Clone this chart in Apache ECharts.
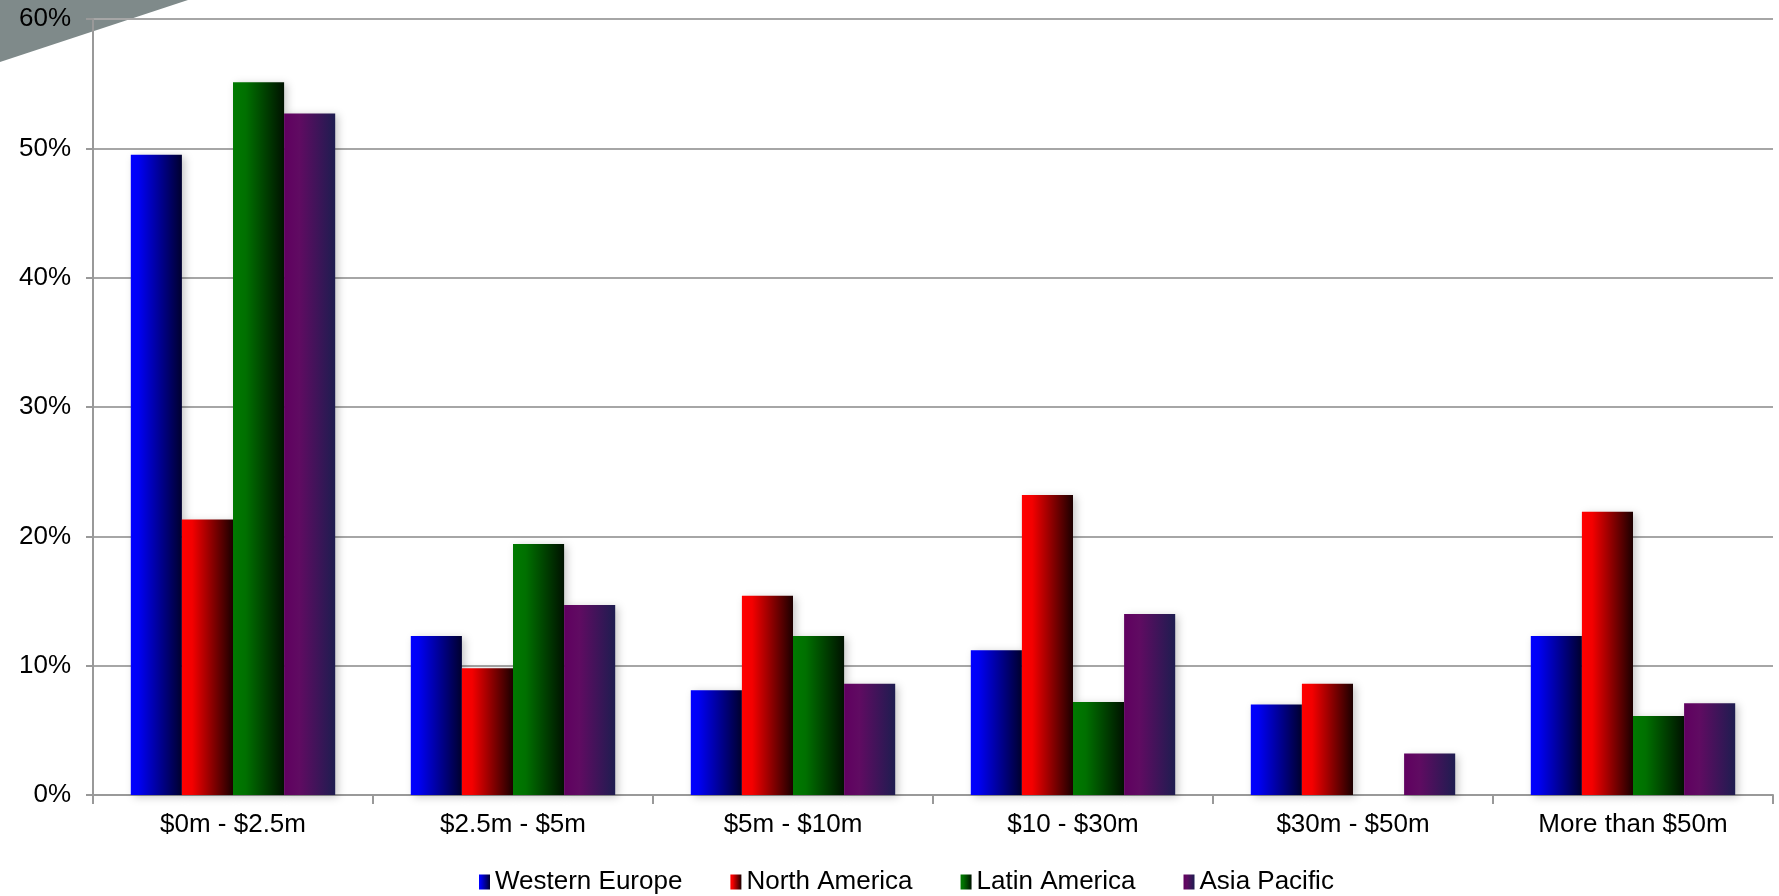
<!DOCTYPE html>
<html>
<head>
<meta charset="utf-8">
<script src="https://cdn.jsdelivr.net/npm/echarts@6/dist/echarts.min.js"></script>
<style>
  html, body { margin: 0; padding: 0; background: #fff; }
  #chart { width: 1779px; height: 896px; }
</style>
</head>
<body>
<div id="chart"></div>
<script>
// Deal size bands
const categories = ['$0m - $2.5m', '$2.5m - $5m', '$5m - $10m', '$10 - $30m', '$30m - $50m', 'More than $50m'];

// Share of deals per region (%)
const westernEurope = [49.5, 12.3, 8.1, 11.2, 7.0, 12.3];
const northAmerica  = [21.3, 9.8, 15.4, 23.2, 8.6, 21.9];
const latinAmerica  = [55.1, 19.4, 12.3, 7.2, 0, 6.1];
const asiaPacific   = [52.7, 14.7, 8.6, 14.0, 3.2, 7.1];

const seriesNames = ['Western Europe', 'North America', 'Latin America', 'Asia Pacific'];
const yTicks = [0, 10, 20, 30, 40, 50, 60];

function hGrad(stops) {
  return new echarts.graphic.LinearGradient(0, 0, 1, 0,
    stops.map(s => ({ offset: s[0], color: s[1] })));
}

const fills = [
  hGrad([[0, '#0000ff'], [0.15, '#0000f4'], [1, '#00002e']]),
  hGrad([[0, '#ff0000'], [0.2, '#f40000'], [1, '#1c0000']]),
  hGrad([[0, '#007a00'], [0.25, '#007000'], [1, '#001200']]),
  hGrad([[0, '#600060'], [0.3, '#600b62'], [1, '#1e1d50']])
];

const values = [westernEurope, northAmerica, latinAmerica, asiaPacific];

const chart = echarts.init(document.getElementById('chart'), null, { renderer: 'canvas' });

const font = '"Liberation Sans", Arial, sans-serif';

chart.setOption({
  animation: false,
  backgroundColor: '#ffffff',
  textStyle: { fontFamily: font },
  graphic: [{
    type: 'polygon',
    z: -10,
    silent: true,
    shape: { points: [[0, 0], [188, 0], [0, 62]] },
    style: { fill: '#7f8a8a' }
  }],
  grid: { left: 93, right: 6, top: 19, bottom: 101, containLabel: false },
  legend: {
    data: seriesNames,
    left: 474,
    top: 864,
    itemWidth: 11,
    itemHeight: 15,
    itemGap: 48,
    icon: 'rect',
    textStyle: { fontSize: 26, color: '#000', fontFamily: font, padding: [0, 0, 0, 0] }
  },
  xAxis: {
    type: 'category',
    data: categories,
    axisLine: { lineStyle: { color: '#999', width: 2 } },
    axisTick: { show: true, alignWithLabel: false, length: 9, lineStyle: { color: '#999', width: 2 } },
    axisLabel: { fontSize: 26, color: '#000', margin: 17, fontFamily: font }
  },
  yAxis: {
    type: 'value',
    min: yTicks[0],
    max: yTicks[yTicks.length - 1],
    interval: 10,
    axisLine: { show: true, lineStyle: { color: '#999', width: 2 } },
    axisTick: { show: true, length: 7, lineStyle: { color: '#999', width: 2 } },
    splitLine: { lineStyle: { color: '#a6a6a6', width: 2 } },
    axisLabel: { fontSize: 26, color: '#000', margin: 22, fontFamily: font, formatter: v => v + '%' }
  },
  series: seriesNames.map((name, i) => ({
    name,
    type: 'bar',
    data: values[i],
    barGap: '0%',
    barCategoryGap: '27%',
    itemStyle: {
      color: fills[i],
      shadowColor: 'rgba(0,0,0,0.22)',
      shadowBlur: 8,
      shadowOffsetX: 3,
      shadowOffsetY: 2
    }
  }))
});
</script>
</body>
</html>
